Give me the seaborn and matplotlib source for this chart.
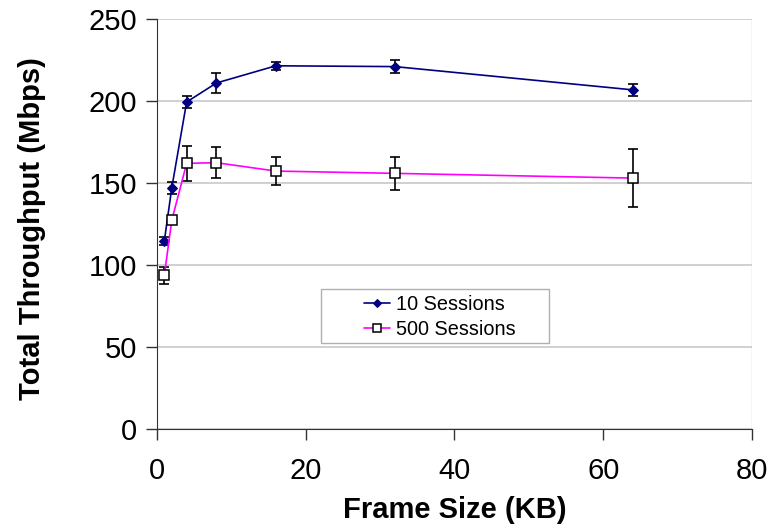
"""Total throughput vs frame size for 10 and 500 sessions"""
import matplotlib
matplotlib.use('Agg')
import matplotlib.pyplot as plt
from matplotlib.patches import Rectangle
import pandas as pd
import seaborn as sns

frame_kb = [1, 2, 4, 8, 16, 32, 64]
tput_10 = [114.6, 147.0, 199.4, 211.0, 221.5, 221.0, 206.8]
err_10 = [2.3, 3.4, 3.5, 5.8, 2.6, 4.1, 3.5]
tput_500 = [93.7, 127.2, 162.0, 162.4, 157.3, 155.9, 153.0]
err_500 = [5.2, 1.0, 10.5, 9.6, 8.5, 10.2, 17.7]
series_names = ['10 Sessions', '500 Sessions']

df = pd.DataFrame({
    'Frame Size (KB)': frame_kb * 2,
    'Throughput': tput_10 + tput_500,
    'err': err_10 + err_500,
    'Series': [series_names[0]] * len(frame_kb) + [series_names[1]] * len(frame_kb),
})

sns.set_style('white')
plt.rcParams['font.family'] = ['Liberation Sans', 'DejaVu Sans']
plt.rcParams['text.color'] = 'black'
plt.rcParams['axes.labelcolor'] = 'black'
plt.rcParams['xtick.color'] = 'black'
plt.rcParams['ytick.color'] = 'black'

fig, ax = plt.subplots(figsize=(7.69, 5.29), dpi=100)
fig.subplots_adjust(left=0.204, right=0.978, top=0.964, bottom=0.189)

#Error bars first, so markers sit on top
for name in series_names:
    sub = df[df['Series'] == name]
    ax.errorbar(sub['Frame Size (KB)'], sub['Throughput'], yerr=sub['err'], fmt='none',
                ecolor='black', elinewidth=1.2, capsize=3.5, capthick=1.2, zorder=3)

sns.lineplot(data=df, x='Frame Size (KB)', y='Throughput', hue='Series', style='Series',
             palette={series_names[0]: '#000080', series_names[1]: '#FF00FF'},
             markers={series_names[0]: 'D', series_names[1]: 's'}, dashes=False,
             linewidth=1.2, ax=ax, zorder=4)

#Recolour markers: navy filled diamonds, hollow white squares
for line in ax.lines:
    c = matplotlib.colors.to_hex(line.get_color())
    if c == '#000080':
        line.set_markersize(5.5)
        line.set_markerfacecolor('#000080')
        line.set_markeredgecolor('#000080')
    elif c == '#ff00ff':
        line.set_markersize(7)
        line.set_markerfacecolor('white')
        line.set_markeredgecolor('black')
        line.set_markeredgewidth(1.1)

ax.set_xlim(0, 80)
ax.set_ylim(0, 250)
ax.set_xticks([0, 20, 40, 60, 80])
ax.set_yticks([0, 50, 100, 150, 200, 250])
ax.yaxis.grid(True, color='#c8c8c8', linewidth=1.2)
ax.set_axisbelow(True)

for side in ['top', 'right']:
    ax.spines[side].set_visible(False)
ax.spines['left'].set_color('#333333')
ax.spines['bottom'].set_color('#333333')
ax.axvline(80, color='#c8c8c8', linewidth=1.0, zorder=0)

ax.tick_params(axis='both', which='major', direction='out', length=8, width=1.0,
               color='#333333', labelcolor='black', left=True, bottom=True)
ax.tick_params(axis='x', pad=12, labelsize=21)
ax.tick_params(axis='y', pad=6, labelsize=21)
ax.set_xlabel('Frame Size (KB)', fontsize=21, fontweight='bold', labelpad=8)
ax.set_ylabel('Total Throughput (Mbps)', fontsize=21, fontweight='bold')
ax.yaxis.set_label_coords(-0.186, 0.49)

handles, labels = ax.get_legend_handles_labels()
for h in handles:
    c = matplotlib.colors.to_hex(h.get_color())
    if c == '#000080':
        h.set_markersize(4.5)
        h.set_markerfacecolor('#000080')
        h.set_markeredgecolor('#000080')
    else:
        h.set_markersize(6)
        h.set_markerfacecolor('white')
        h.set_markeredgecolor('black')
leg = ax.legend(handles, labels, loc='center left', bbox_to_anchor=(0.348, 0.2744),
                fontsize=14.3, frameon=False, handlelength=1.31, handletextpad=0.3,
                borderpad=0, labelspacing=0.3, borderaxespad=0)
#Legend frame is wider than its contents in the original
ax.add_patch(Rectangle((0.2765, 0.209), 0.3824, 0.1317, transform=ax.transAxes,
                       facecolor='white', edgecolor='#b0b0b0', linewidth=1.0, zorder=5))
leg.set_zorder(6)

fig.savefig('out.png', dpi=100)
